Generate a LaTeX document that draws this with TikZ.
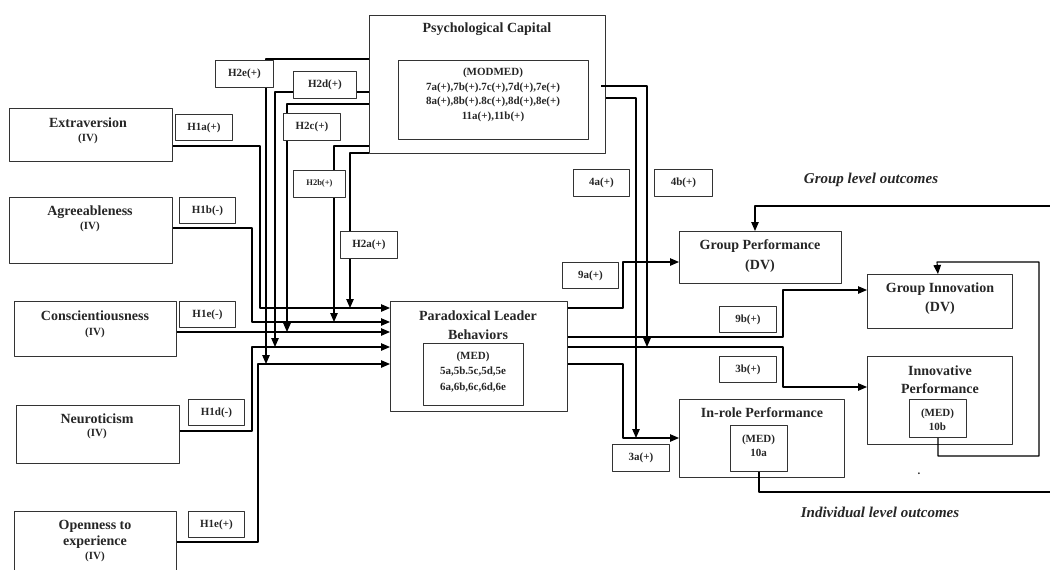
\documentclass[tikz,border=0pt]{standalone}
\usepackage{fontspec}
\setmainfont{Liberation Serif}
\usetikzlibrary{arrows.meta}
\begin{document}
\begin{tikzpicture}[x=1pt,y=-1pt,line join=round,>={Triangle[length=9pt,width=7.5pt]}]
	\tikzset{every node/.style={text=black!85},
		box/.style={draw=black!80,line width=0.9pt,inner sep=0pt,anchor=north west},
		lbl/.style={box,fill=white,font=\fontsize{11}{13}\selectfont\bfseries},
		big/.style={font=\fontsize{14}{16}\selectfont\bfseries,inner sep=0pt,align=center},
		sml/.style={font=\fontsize{11}{13}\selectfont\bfseries,inner sep=0pt,align=center},
		outc/.style={font=\fontsize{15}{17}\selectfont\bfseries\itshape,inner sep=0pt},
		link/.style={line width=1.1pt,->}}
	\useasboundingbox (0,0) rectangle (1050,570);
	\clip (0,0) rectangle (1050,570);
	% construct boxes
	\foreach \nm/\xa/\ya/\xb/\yb in {ext/9/108/172/161,agr/9/197/172/263,con/14/301/176/356,
		neu/16/405/179/463,ope/14/511/176/580,psy/369/15/605/153,psym/398/60/588/139,
		plb/390/301/567/411,plbm/423/343/523/405,gp/679/231/841/283,gi/867/274/1012/328,
		ip/867/356/1012/444,ipm/909/399/966/437,ir/679/399/844/477,irm/730/425/787/471}
	\node[box,minimum width={\xb-\xa},minimum height={\yb-\ya}] (\nm) at (\xa,\ya) {};
	\node[big] (extT) at (88,123) {Extraversion};
	\node[sml] (extS) at (88,139) {(IV)};
	\node[big] (agrT) at (90,212) {Agreeableness};
	\node[sml] (agrS) at (90,227) {(IV)};
	\node[big] (conT) at (95,316) {Conscientiousness};
	\node[sml] (conS) at (95,333) {(IV)};
	\node[big] (neuT) at (97,419) {Neuroticism};
	\node[sml] (neuS) at (97,434) {(IV)};
	\node[big,font=\fontsize{14}{16}\selectfont\bfseries] (opeT) at (95,534) {Openness to\\experience};
	\node[sml] (opeS) at (95,557) {(IV)};
	\node[big] (psyT) at (487,29) {Psychological Capital};
	\node[sml,font=\fontsize{11}{14.7}\selectfont\bfseries] (psymT) at (493,95)
		{(MODMED)\\7a(+),7b(+).7c(+),7d(+),7e(+)\\8a(+),8b(+).8c(+),8d(+),8e(+)\\11a(+),11b(+)};
	\node[big,font=\fontsize{14}{19}\selectfont\bfseries] (plbT) at (478,325) {Paradoxical Leader\\Behaviors};
	\node[sml,font=\fontsize{11}{15.5}\selectfont\bfseries] (plbmT) at (473,372) {(MED)\\5a,5b.5c,5d,5e\\6a,6b,6c,6d,6e};
	\node[big,font=\fontsize{14}{20}\selectfont\bfseries] (gpT) at (760,256) {Group Performance\\(DV)};
	\node[big,font=\fontsize{14}{19}\selectfont\bfseries] (giT) at (940,299) {Group Innovation\\(DV)};
	\node[big,font=\fontsize{14}{18}\selectfont\bfseries] (ipT) at (940,380) {Innovative\\Performance};
	\node[sml,font=\fontsize{11}{14}\selectfont\bfseries] (ipmT) at (937.5,420) {(MED)\\10b};
	\node[big] (irT) at (762,413) {In-role Performance};
	\node[sml,font=\fontsize{11}{14}\selectfont\bfseries] (irmT) at (758.5,446) {(MED)\\10a};
	\node[outc] (grp) at (871,180) {Group level outcomes};
	\node[outc] (ind) at (880,512) {Individual level outcomes};
	\node[sml] (dot) at (919,474) {.};
	% traits to paradoxical leader behaviors
	\draw[link] (ext.east |- 0,146) -| (260,308) -- (plb.west |- 0,308);
	\draw[link] (agr.east |- 0,228) -| (252,322) -- (plb.west |- 0,322);
	\draw[link] (con.east |- 0,332) -- (plb.west |- 0,332);
	\draw[link] (neu.east |- 0,431) -| (252,347) -- (plb.west |- 0,347);
	\draw[link] (ope.east |- 0,542) -| (258,364) -- (plb.west |- 0,364);
	% moderation by psychological capital
	\foreach \ya/\xb/\yb in {153/350/308,146/334/322,104/287/332,92/275/347,59/266/364}
	\draw[link] (psy.west |- 0,\ya) -| (\xb,\yb);
	\draw[link] (601,86) -| (647,347);
	\draw[link] (psy.east |- 0,98) -| (636,438);
	% outcomes
	\draw[link] (plb.east |- 0,308) -| (623,262) -- (gp.west |- 0,262);
	\draw[link] (plb.east |- 0,337) -| (783,290) -- (gi.west |- 0,290);
	\draw[link] (plb.east |- 0,347) -| (783,387) -- (ip.west |- 0,387);
	\draw[link] (plb.east |- 0,364) -| (623,438) -- (ir.west |- 0,438);
	\draw[link] (ipm.south) |- (1039,456) |- (937,262) -- (gi.north -| ipm.south);
	\draw[link] (irm.south) |- (1052,492) -- (1052,206) -| (gp.north -| 755,0);
	% hypothesis labels
	\foreach \nm/\xa/\ya/\xb/\yb/\txt in {h1a/175/114/232/140/H1a(+),h1b/179/197/235/223/H1b(-),
		h1c/179/301/235/327/H1e(-),h1d/188/399/244/425/H1d(-),h1e/188/511/244/537/H1e(+),
		h2a/340/231/397/258/H2a(+),h2c/283/113/340/140/H2c(+),h2d/293/71/356/98/H2d(+),
		h2e/215/60/273/87/H2e(+),l4a/573/169/629/196/4a(+),l4b/654/169/712/196/4b(+),
		l9a/562/262/618/288/9a(+),l9b/719/306/776/332/9b(+),l3b/719/356/776/382/3b(+),
		l3a/612/444/669/471/3a(+)}
	\node[lbl,minimum width={\xb-\xa},minimum height={\yb-\ya}] (\nm) at (\xa,\ya) {\txt};
	\node[lbl,font=\fontsize{8.5}{10}\selectfont\bfseries,minimum width=52,minimum height=27] (h2b) at (293,170) {H2b(+)};
\end{tikzpicture}
\end{document}
